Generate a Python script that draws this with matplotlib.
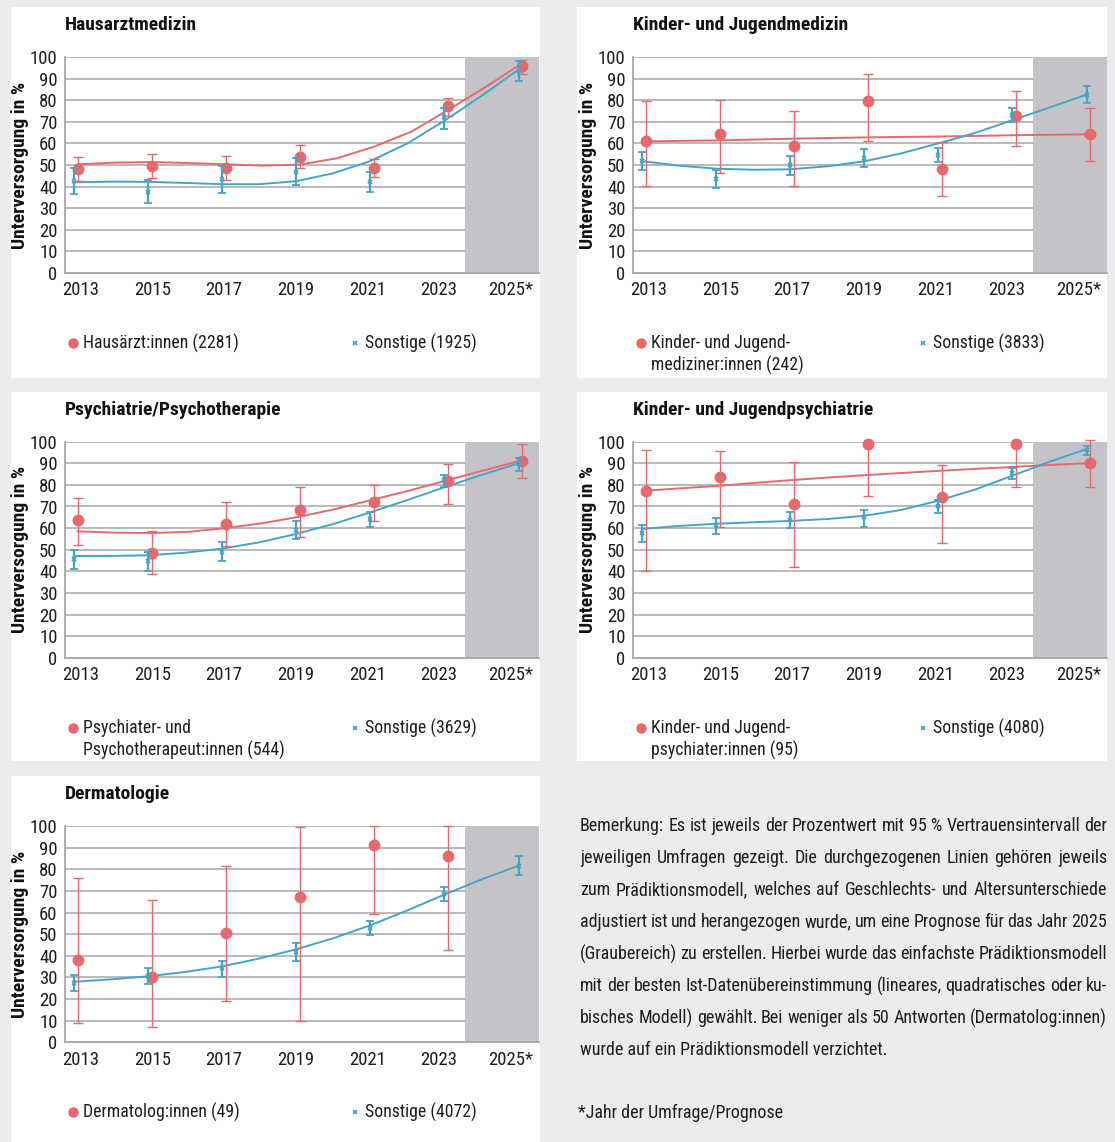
import numpy as np
import matplotlib
matplotlib.use("Agg")
import matplotlib.pyplot as plt
import matplotlib.transforms as mtransforms
from matplotlib.lines import Line2D
from matplotlib.patches import Rectangle

# -------------------------------
# 1. Data
# -------------------------------
years = [2013, 2015, 2017, 2019, 2021, 2023, 2025]
year_labels = ["2013", "2015", "2017", "2019", "2021", "2023", "2025*"]
fit_years = list(range(2013, 2026))

# Hausarztmedizin
haus_pt = [48.2, 49.7, 48.6, 53.8, 48.6, 77.1, 95.7]
haus_lo = [42.8, 44.2, 43.2, 48.5, 44.3, 72.6, 92.3]
haus_hi = [53.8, 55.2, 54.2, 59.1, 52.9, 81.1, 98.8]
haus_fit = [50.3, 51.1, 51.4, 50.9, 50.3, 49.7, 50.2, 53.1, 58.5, 65.4, 75.5, 86.0, 97.2]
haus_so_pt = [42.8, 37.7, 43.4, 46.8, 42.3, 72.0, 93.4]
haus_so_lo = [36.6, 32.3, 37.2, 40.6, 37.7, 66.8, 88.9]
haus_so_hi = [48.8, 43.1, 49.7, 53.2, 46.9, 76.2, 98.0]
haus_so_fit = [42.0, 42.3, 42.2, 41.7, 41.1, 41.1, 42.5, 46.2, 51.8, 60.0, 70.5, 82.0, 94.2]

# Kinder- und Jugendmedizin
kjm_pt = [61.2, 64.5, 58.6, 79.8, 48.3, 72.9, 64.2]
kjm_lo = [40.5, 46.3, 40.5, 61.2, 35.8, 58.8, 51.8]
kjm_hi = [79.7, 80.2, 75.2, 92.0, 60.6, 84.3, 76.6]
kjm_fit = [60.9, 61.2, 61.4, 61.8, 62.2, 62.5, 62.8, 63.0, 63.2, 63.5, 63.8, 64.0, 64.2]
kjm_so_pt = [52.0, 43.5, 49.8, 53.4, 54.8, 73.2, 82.6]
kjm_so_lo = [47.5, 39.4, 45.5, 49.1, 51.2, 69.7, 78.5]
kjm_so_hi = [56.2, 47.5, 54.0, 57.5, 58.0, 76.6, 86.8]
kjm_so_fit = [51.8, 49.7, 48.3, 47.8, 48.0, 49.4, 51.7, 55.4, 60.0, 64.9, 70.8, 76.6, 82.6]

# Psychiatrie/Psychotherapie
psy_pt = [63.6, 48.6, 61.9, 68.2, 72.1, 81.8, 90.9]
psy_lo = [52.2, 38.7, 51.9, 55.9, 63.4, 71.1, 83.0]
psy_hi = [73.9, 58.6, 72.1, 78.9, 79.8, 89.7, 98.9]
psy_fit = [58.5, 57.9, 57.7, 58.3, 60.0, 62.3, 65.3, 69.0, 73.3, 77.6, 82.3, 86.9, 91.5]
psy_so_pt = [45.5, 44.6, 48.9, 59.1, 64.0, 82.3, 89.7]
psy_so_lo = [41.0, 40.3, 44.6, 54.8, 60.6, 78.9, 86.6]
psy_so_hi = [49.8, 49.1, 53.4, 63.4, 67.3, 84.7, 92.4]
psy_so_fit = [47.1, 47.1, 47.4, 48.6, 50.5, 53.4, 57.3, 61.9, 67.3, 73.0, 78.9, 84.6, 90.0]

# Kinder- und Jugendpsychiatrie
kjp_pt = [77.2, 83.5, 71.0, 99.1, 74.5, 99.1, 90.0]
kjp_lo = [40.1, 60.5, 42.1, 74.8, 53.2, 78.9, 79.0]
kjp_hi = [96.3, 95.8, 90.7, 100.0, 89.4, 100.0, 100.9]
kjp_fit = [77.3, 78.5, 79.6, 81.0, 82.3, 83.5, 84.6, 85.6, 86.6, 87.5, 88.4, 89.3, 90.1]
kjp_so_pt = [57.9, 61.3, 63.7, 65.0, 70.1, 85.3, 96.0]
kjp_so_lo = [53.7, 57.1, 59.9, 60.6, 67.1, 82.7, 93.8]
kjp_so_hi = [61.6, 64.8, 67.6, 68.2, 73.0, 87.7, 98.0]
kjp_so_fit = [59.6, 61.0, 62.0, 62.7, 63.3, 64.2, 65.7, 68.4, 72.7, 77.9, 84.3, 90.7, 96.6]

# Dermatologie (no model for the small group)
derm_pt = [37.9, 30.2, 50.4, 67.0, 91.2, 86.1, np.nan]
derm_lo = [8.8, 7.1, 19.1, 9.9, 59.2, 42.5, np.nan]
derm_hi = [75.8, 65.6, 81.7, 99.5, 100.0, 100.0, np.nan]
derm_so_pt = [27.3, 30.8, 34.2, 41.9, 53.0, 68.6, 81.7]
derm_so_lo = [23.7, 27.1, 30.0, 37.6, 49.8, 65.2, 77.2]
derm_so_hi = [31.3, 34.4, 37.8, 45.8, 56.1, 72.0, 86.0]
derm_so_fit = [28.0, 29.1, 30.5, 32.5, 35.1, 38.7, 43.0, 48.1, 54.1, 61.0, 68.3, 75.3, 81.7]

note_lines = [
    "Bemerkung: Es ist jeweils der Prozentwert mit 95\u00a0% Vertrauensintervall der",
    "jeweiligen Umfragen gezeigt. Die durchgezogenen Linien gehören jeweils",
    "zum Prädiktionsmodell, welches auf Geschlechts- und Altersunterschiede",
    "adjustiert ist und herangezogen wurde, um eine Prognose für das Jahr 2025",
    "(Graubereich) zu erstellen. Hierbei wurde das einfachste Prädiktionsmodell",
    "mit der besten Ist-Datenübereinstimmung (lineares, quadratisches oder ku-",
    "bisches Modell) gewählt. Bei weniger als 50 Antworten (Dermatolog:innen)",
    "wurde auf ein Prädiktionsmodell verzichtet.",
]
footnote = "*Jahr der Umfrage/Prognose"

# -------------------------------
# 2. Styling / layout
# -------------------------------
W, H = 1115, 1142
RED = "#e8696d"
BLUE = "#45a5c8"
ZONE = "#c4c4c8"
BG = "#ecebee"
GRID = "#b4b4b4"
TXT = "#1e1e1e"
FONT = ["Liberation Sans Narrow", "Roboto Condensed", "DejaVu Sans"]
plt.rcParams["font.family"] = FONT

fig = plt.figure(figsize=(W / 100, H / 100), dpi=100, facecolor=BG)


def fx(px):
    return px / W


def fy(py):
    return 1 - py / H


def panel_box(x0, y0, x1, y1):
    fig.patches.append(Rectangle((fx(x0), fy(y1)), fx(x1 - x0), (y1 - y0) / H,
                                 transform=fig.transFigure, facecolor="white",
                                 edgecolor="none", zorder=-5))


def legend_entry(x, y, label, marker, color, ms, mew):
    fig.add_artist(Line2D([fx(x)], [fy(y)], marker=marker, color=color,
                          markersize=ms, markeredgewidth=mew, linestyle="none",
                          transform=fig.transFigure))
    for i, line in enumerate(label.split("\n")):
        fig.text(fx(x + 10), fy(y + i * 22), line, fontsize=12.8, va="center",
                 ha="left", color=TXT)


def draw_panel(box, ax_box, title, grp, other, labels):
    bx0, by0, bx1, by1 = box
    panel_box(bx0, by0, bx1, by1)
    ax0, ay0, ax1, ay1 = ax_box
    ax = fig.add_axes([fx(ax0), fy(ay1), fx(ax1 - ax0), (ay1 - ay0) / H])
    ax.set_facecolor("white")
    ax.set_xlim(2012.7, 2025.5)
    ax.set_ylim(0, 100)
    ax.set_yticks(range(0, 101, 10))
    ax.set_xticks(years)
    ax.set_xticklabels(year_labels)
    ax.tick_params(length=0, labelsize=13.5, colors=TXT)
    ax.tick_params(axis="y", pad=5)
    ax.tick_params(axis="x", pad=6)
    # the year labels sit slightly left of the data as the axis runs right
    for i, lab in enumerate(ax.get_xticklabels()):
        shift = mtransforms.ScaledTranslation((5 - 2.5 * i) / 100, 0, fig.dpi_scale_trans)
        lab.set_transform(lab.get_transform() + shift)
    ax.grid(axis="y", color=GRID, linewidth=1.3, zorder=0.5)
    ax.set_axisbelow(True)
    for s in ["top", "right"]:
        ax.spines[s].set_visible(False)
    for s in ["left", "bottom"]:
        ax.spines[s].set_color("#a8a8a8")
        ax.spines[s].set_linewidth(1.3)
    ax.axvspan(2023.5, 2025.5, color=ZONE, zorder=1, linewidth=0)

    yrs = np.array(years, dtype=float)
    fyrs = np.array(fit_years, dtype=float)
    # group (red)
    pt, lo, hi, fit = grp
    pt, lo, hi = np.array(pt), np.array(lo), np.array(hi)
    if fit is not None:
        ax.plot(fyrs + 0.05, fit, color=RED, linewidth=1.4, zorder=2, clip_on=False)
    ax.errorbar(yrs + 0.05, pt, yerr=[pt - lo, hi - pt], fmt="o", color=RED,
                markersize=7.5, elinewidth=1.0, capsize=3.5, capthick=1.0,
                zorder=3, clip_on=False)
    # others (blue)
    pt, lo, hi, fit = other
    pt, lo, hi = np.array(pt), np.array(lo), np.array(hi)
    ax.plot(fyrs - 0.05, fit, color=BLUE, linewidth=1.4, zorder=2, clip_on=False)
    ax.errorbar(yrs - 0.05, pt, yerr=[pt - lo, hi - pt], fmt="x", color=BLUE,
                markersize=3.5, markeredgewidth=1.3, elinewidth=1.6,
                capsize=2.8, capthick=1.6, zorder=4, clip_on=False)

    fig.text(fx(ax0), fy(by0 + 18), title, fontsize=14, fontweight="bold",
             va="center", ha="left", color="#111111")
    fig.text(fx(ax0 - 45), fy((ay0 + ay1) / 2), "Unterversorgung in %",
             rotation=90, fontsize=14, fontweight="bold", va="center",
             ha="center", color="#111111")
    ly = by0 + 336
    legend_entry(ax0 + 8, ly, labels[0], "o", RED, 7.5, 0)
    legend_entry(ax0 + 290, ly, labels[1], "x", BLUE, 3.5, 1.3)
    return ax


# -------------------------------
# 3. Panels
# -------------------------------
L = (11, 540, 64.6, 539)
R = (577, 1107, 632.6, 1107)
rows = [(7, 378, 57, 273), (392, 761, 441.7, 657.7), (776, 1142, 826, 1042.3)]

draw_panel((L[0], rows[0][0], L[1], rows[0][1]), (L[2], rows[0][2], L[3], rows[0][3]),
           "Hausarztmedizin",
           (haus_pt, haus_lo, haus_hi, haus_fit),
           (haus_so_pt, haus_so_lo, haus_so_hi, haus_so_fit),
           ["Hausärzt:innen (2281)", "Sonstige (1925)"])
draw_panel((R[0], rows[0][0], R[1], rows[0][1]), (R[2], rows[0][2], R[3], rows[0][3]),
           "Kinder- und Jugendmedizin",
           (kjm_pt, kjm_lo, kjm_hi, kjm_fit),
           (kjm_so_pt, kjm_so_lo, kjm_so_hi, kjm_so_fit),
           ["Kinder- und Jugend-\nmediziner:innen (242)", "Sonstige (3833)"])
draw_panel((L[0], rows[1][0], L[1], rows[1][1]), (L[2], rows[1][2], L[3], rows[1][3]),
           "Psychiatrie/Psychotherapie",
           (psy_pt, psy_lo, psy_hi, psy_fit),
           (psy_so_pt, psy_so_lo, psy_so_hi, psy_so_fit),
           ["Psychiater- und\nPsychotherapeut:innen (544)", "Sonstige (3629)"])
draw_panel((R[0], rows[1][0], R[1], rows[1][1]), (R[2], rows[1][2], R[3], rows[1][3]),
           "Kinder- und Jugendpsychiatrie",
           (kjp_pt, kjp_lo, kjp_hi, kjp_fit),
           (kjp_so_pt, kjp_so_lo, kjp_so_hi, kjp_so_fit),
           ["Kinder- und Jugend-\npsychiater:innen (95)", "Sonstige (4080)"])
draw_panel((L[0], rows[2][0], L[1], rows[2][1]), (L[2], rows[2][2], L[3], rows[2][3]),
           "Dermatologie",
           (derm_pt, derm_lo, derm_hi, None),
           (derm_so_pt, derm_so_lo, derm_so_hi, derm_so_fit),
           ["Dermatolog:innen (49)", "Sonstige (4072)"])

# -------------------------------
# 4. Note text, justified by hand
# -------------------------------
renderer = fig.canvas.get_renderer()
x_left, x_right = 580, 1107
NOTE_FS = 13
for i, line in enumerate(note_lines):
    y = 826 + i * 32
    words = line.split(" ")
    if i == len(note_lines) - 1:
        fig.text(fx(x_left), fy(y), line, fontsize=NOTE_FS, va="center", color=TXT)
        continue
    texts = [fig.text(0, 0, w, fontsize=NOTE_FS, va="center", color=TXT) for w in words]
    widths = [t.get_window_extent(renderer).width for t in texts]
    gap = (x_right - x_left - sum(widths)) / (len(words) - 1)
    x = x_left
    for t, w in zip(texts, widths):
        t.set_position((fx(x), fy(y)))
        x += w + gap
fig.text(fx(578), fy(1113), footnote, fontsize=NOTE_FS, va="center", color=TXT)

fig.savefig("out.png", dpi=100, facecolor=BG)
